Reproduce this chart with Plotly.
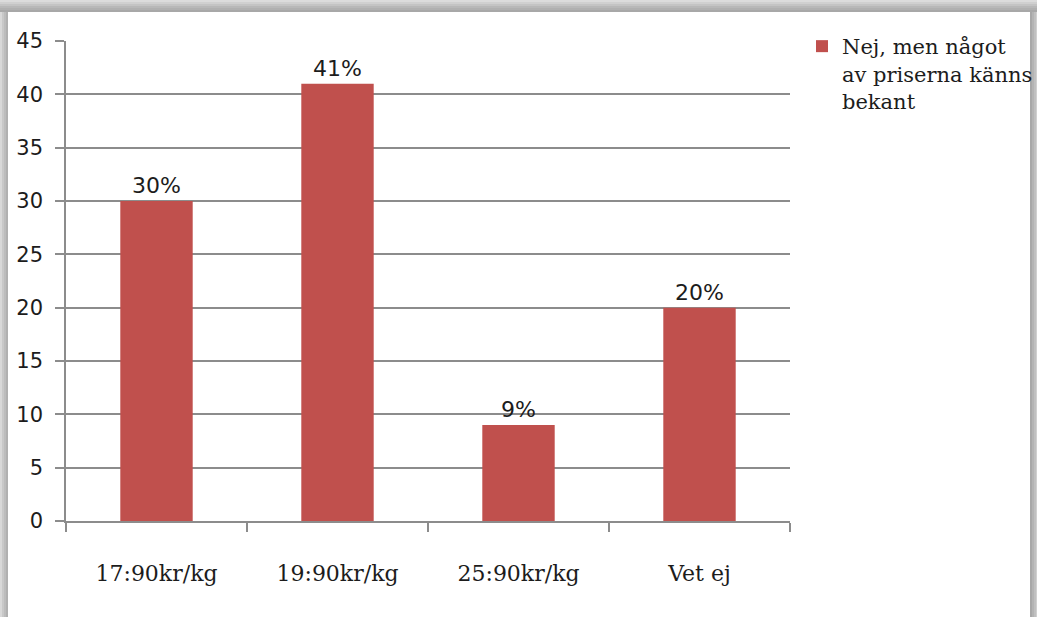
import plotly.graph_objects as go

# Survey answers: which price per kilo seems familiar
categories = ["17:90kr/kg", "19:90kr/kg", "25:90kr/kg", "Vet ej"]
shares = [30, 41, 9, 20]
series_name = "Nej, men något<br>av priserna känns<br>bekant"
y_ticks = [0, 5, 10, 15, 20, 25, 30, 35, 40, 45]

W, H = 1037, 617
ML, MR, MT, MB = 66, 247, 41, 96
PW, PH = W - ML - MR, H - MT - MB

BAR = "#C0504D"
GRID = "#8c8c8c"
TXT = "#1c1c1c"


def px_x(px):
    return (px - ML) / PW


def px_y(py):
    return (H - MB - py) / PH


fig = go.Figure()
fig.add_trace(go.Bar(
    x=categories,
    y=shares,
    name=series_name,
    marker=dict(color=BAR, line=dict(width=0)),
    text=[f"{v}%" for v in shares],
    textposition="outside",
    textfont=dict(family="DejaVu Sans", size=22, color=TXT),
    cliponaxis=False,
    showlegend=True,
))

# drop-shadow frame around the white chart card
shapes = []
top_steps = ["#dcdcdc", "#d0d0d0", "#c4c4c4", "#b8b8b8", "#b0b0b0", "#a8a8a8"]
for i, c in enumerate(top_steps):
    shapes.append(dict(type="rect", xref="paper", yref="paper", layer="below",
                       x0=px_x(0), x1=px_x(W), y0=px_y(i * 2), y1=px_y(i * 2 + 2),
                       fillcolor=c, line=dict(width=0)))
left_steps = ["#d8d8d8", "#c8c8c8", "#bcbcbc", "#b0b0b0"]
for i, c in enumerate(left_steps):
    shapes.append(dict(type="rect", xref="paper", yref="paper", layer="below",
                       x0=px_x(i * 2), x1=px_x(i * 2 + 2), y0=px_y(12), y1=px_y(H),
                       fillcolor=c, line=dict(width=0)))
right_steps = ["#a8a8a8", "#b4b4b4", "#c0c0c0", "#d0d0d0"]
for i, c in enumerate(right_steps):
    shapes.append(dict(type="rect", xref="paper", yref="paper", layer="below",
                       x0=px_x(1030 + i * 2), x1=px_x(1032 + i * 2), y0=px_y(12), y1=px_y(H),
                       fillcolor=c, line=dict(width=0)))

fig.update_layout(
    width=W, height=H,
    margin=dict(l=ML, r=MR, t=MT, b=MB, pad=0, autoexpand=False),
    paper_bgcolor="white",
    plot_bgcolor="white",
    bargap=0.6,
    shapes=shapes,
    showlegend=True,
    legend=dict(
        x=px_x(802), y=px_y(26), xanchor="left", yanchor="top",
        valign="top",
        font=dict(family="DejaVu Serif", size=21, color=TXT),
        bgcolor="rgba(0,0,0,0)",
        itemwidth=30,
    ),
    xaxis=dict(
        type="category",
        range=[-0.5, 3.5],
        showgrid=False,
        showline=True, linecolor=GRID, linewidth=1.5,
        ticks="outside", tickson="boundaries", ticklen=9,
        tickcolor=GRID, tickwidth=1.5,
        tickfont=dict(family="DejaVu Serif", size=22, color=TXT),
        ticklabelstandoff=32,
    ),
    yaxis=dict(
        range=[0, 45],
        tickvals=y_ticks,
        showgrid=True, gridcolor=GRID, gridwidth=1.5,
        zeroline=False,
        showline=True, linecolor=GRID, linewidth=1.5,
        ticks="outside", ticklen=9, tickcolor=GRID, tickwidth=1.5,
        tickfont=dict(family="DejaVu Sans", size=21, color=TXT),
        ticklabelstandoff=8,
    ),
)

fig.write_html("out.html")
